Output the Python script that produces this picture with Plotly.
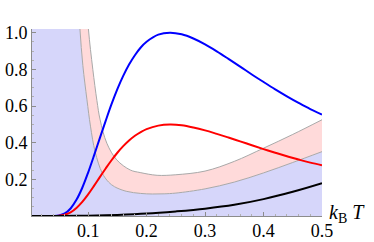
import plotly.graph_objects as go

# ---- data ----
x_curve = [0.004, 0.03, 0.04, 0.05, 0.06, 0.07, 0.08, 0.09, 0.10, 0.11, 0.12, 0.13, 0.14,
           0.15, 0.16, 0.17, 0.18, 0.19, 0.20, 0.22, 0.24, 0.26, 0.28, 0.30, 0.32, 0.34,
           0.36, 0.38, 0.40, 0.42, 0.44, 0.46, 0.48, 0.50]
blue_vals = [0, 0, 0.0003, 0.003, 0.014, 0.041, 0.088, 0.154, 0.237, 0.329, 0.425, 0.519,
             0.610, 0.692, 0.764, 0.826, 0.877, 0.919, 0.950, 0.989, 1.0, 0.991, 0.968,
             0.936, 0.898, 0.857, 0.815, 0.772, 0.731, 0.691, 0.653, 0.617, 0.583, 0.553]
red_vals = [0, 0, 0.0001, 0.0015, 0.007, 0.020, 0.044, 0.077, 0.118, 0.164, 0.212, 0.259,
            0.304, 0.345, 0.381, 0.412, 0.438, 0.458, 0.474, 0.493, 0.499, 0.495, 0.483,
            0.467, 0.448, 0.428, 0.407, 0.386, 0.365, 0.345, 0.326, 0.308, 0.291, 0.277]

x_black = [0.004, 0.05, 0.10, 0.15, 0.20, 0.25, 0.30, 0.35, 0.40, 0.45, 0.50]
black_vals = [0, 0, 0.002, 0.006, 0.013, 0.025, 0.040, 0.061, 0.092, 0.132, 0.179]

x_lower = [0.004, 0.075, 0.082, 0.086, 0.091, 0.098, 0.104, 0.112, 0.124, 0.135, 0.145,
           0.165, 0.19, 0.21, 0.23, 0.25, 0.30, 0.35, 0.40, 0.45, 0.50]
lower_vals = [1.6, 1.6, 1.25, 1.02, 0.82, 0.634, 0.49, 0.35, 0.235, 0.185, 0.16,
              0.135, 0.123, 0.12, 0.121, 0.125, 0.148, 0.185, 0.235, 0.292, 0.351]

x_upper = [0.004, 0.09, 0.096, 0.1005, 0.108, 0.115, 0.1205, 0.132, 0.149, 0.172, 0.189,
           0.218, 0.25, 0.30, 0.35, 0.40, 0.45, 0.50]
upper_vals = [1.7, 1.7, 1.25, 1.02, 0.80, 0.63, 0.525, 0.397, 0.306, 0.251, 0.237,
              0.222, 0.225, 0.245, 0.298, 0.37, 0.445, 0.525]

x_ticks = [0.1, 0.2, 0.3, 0.4, 0.5]
x_ticklabels = ["0.1", "0.2", "0.3", "0.4", "0.5"]
y_ticks = [0.2, 0.4, 0.6, 0.8, 1.0]
y_ticklabels = ["0.2", "0.4", "0.6", "0.8", "1.0"]

FONT = "Liberation Serif"
EDGE = "#a9a9a9"

fig = go.Figure()
fig.add_trace(go.Scatter(x=x_lower, y=lower_vals, mode="lines", fill="tozeroy",
                         fillcolor="#d6d6fa", line=dict(color=EDGE, width=1, shape="spline"),
                         hoverinfo="skip"))
fig.add_trace(go.Scatter(x=x_upper, y=upper_vals, mode="lines", fill="tonexty",
                         fillcolor="#ffdada", line=dict(color=EDGE, width=1, shape="spline"),
                         hoverinfo="skip"))
fig.add_trace(go.Scatter(x=x_curve, y=blue_vals, mode="lines",
                         line=dict(color="#0000ff", width=2, shape="spline")))
fig.add_trace(go.Scatter(x=x_curve, y=red_vals, mode="lines",
                         line=dict(color="#ff0000", width=2, shape="spline")))
fig.add_trace(go.Scatter(x=x_black, y=black_vals, mode="lines",
                         line=dict(color="#000000", width=2, shape="spline")))

axis_common = dict(showgrid=False, zeroline=False, showline=True, linecolor="#8c8c8c",
                   linewidth=1, ticks="inside", ticklen=4, tickcolor="#8c8c8c",
                   automargin=False, fixedrange=True)

fig.update_layout(
    width=374, height=242,
    margin=dict(l=32, r=52, t=29, b=26, autoexpand=False),
    paper_bgcolor="white", plot_bgcolor="white",
    showlegend=False,
    font=dict(family=FONT, size=18, color="black"),
    xaxis=dict(range=[0.004, 0.5], tickvals=x_ticks, ticktext=x_ticklabels,
               tickfont=dict(family=FONT, size=18, color="black"), ticklabelstandoff=-2,
               minor=dict(ticks="inside", ticklen=2, dtick=0.02, tick0=0, tickcolor="#b0b0b0"),
               **axis_common),
    yaxis=dict(range=[0, 1.02], tickvals=y_ticks, ticktext=y_ticklabels,
               tickfont=dict(family=FONT, size=18, color="black"),
               minor=dict(ticks="inside", ticklen=2, dtick=0.05, tick0=0, tickcolor="#b0b0b0"),
               **axis_common),
    annotations=[dict(text="<i>k</i><sub>B</sub> <i>T</i>", xref="paper", yref="y",
                      x=1, y=0, xanchor="left", yanchor="middle", xshift=5, yshift=3,
                      showarrow=False, font=dict(family=FONT, size=20, color="black"))],
)

fig.write_html("out.html", config={"displayModeBar": False},
               post_script="document.body.style.margin='0';document.body.style.padding='0';")
